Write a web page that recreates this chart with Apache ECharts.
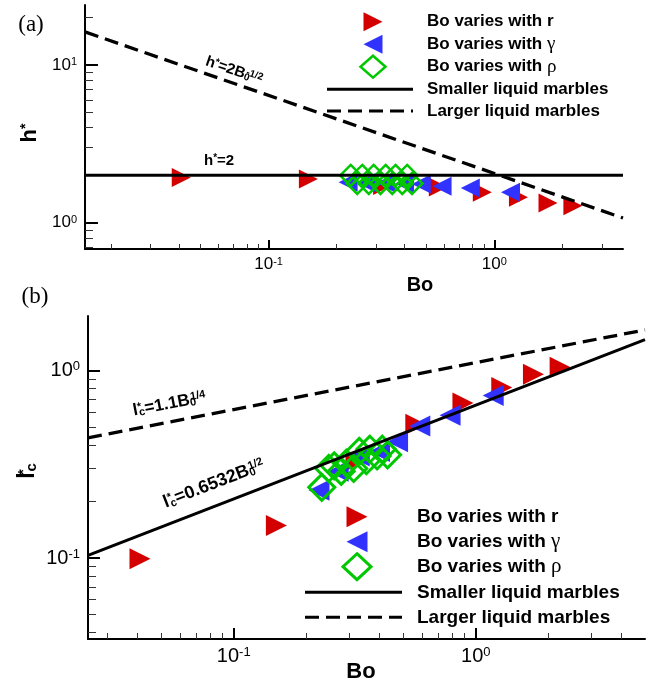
<!DOCTYPE html>
<html><head><meta charset="utf-8">
<script src="https://cdn.jsdelivr.net/npm/echarts@6/dist/echarts.min.js"></script>
<style>html,body{margin:0;padding:0;background:#fff}#c{width:662px;height:689px}</style>
</head><body><div id="c"></div>
<script>
const SANS = "'Liberation Sans', Arial, Helvetica, sans-serif";
const SERIF = "'Liberation Serif', 'Times New Roman', serif";
const RED = '#d40000', BLUE = '#3232ff', GREEN = '#00c800';

// ---------- data: panel (a) h* vs Bo ----------
const boR = [0.041, 0.150, 0.32, 0.565, 0.885, 1.28, 1.73, 2.23];
const hR  = [1.93, 1.89, 1.72, 1.68, 1.56, 1.45, 1.33, 1.28];
const boG = [0.225, 0.27, 0.33, 0.40, 0.475, 0.587, 0.783, 1.18];
const hG  = [1.80, 1.79, 1.78, 1.77, 1.76, 1.70, 1.66, 1.56];
const boP = [0.231, 0.247, 0.26, 0.278, 0.292, 0.313, 0.33, 0.353, 0.365, 0.391, 0.411, 0.432];
const hP  = [1.99, 1.77, 1.99, 1.77, 1.99, 1.77, 1.99, 1.77, 1.99, 1.77, 1.99, 1.77];
const boLineA = [0.01535, 3.72];
const hSmall  = [2, 2];
const hLarge  = [16.2, 1.07];
// ---------- data: panel (b) l*c vs Bo ----------
const lcR = [0.099, 0.149, 0.33, 0.517, 0.67, 0.81, 0.953, 1.04];
const lcG = [0.23, 0.29, 0.35, 0.37, 0.416, 0.506, 0.577, 0.736];
const lcP = [0.238, 0.30, 0.31, 0.29, 0.32, 0.30, 0.37, 0.33, 0.38, 0.35, 0.38, 0.355];
const boLineB = [0.025, 5];
const lcSmall = [0.1033, 1.46];
const lcLarge = [0.437, 1.645];
// ---------- ticks ----------
const xMajorA = [0.1, 1];
const xMinorA = [0.02,0.03,0.04,0.05,0.06,0.07,0.08,0.09,0.2,0.3,0.4,0.5,0.6,0.7,0.8,0.9,2,3];
const yMajorA = [1, 10];
const yMinorA = [0.7,0.8,0.9,2,3,4,5,6,7,8,9,20];
const xMajorB = [0.1, 1];
const xMinorB = [0.03,0.04,0.05,0.06,0.07,0.08,0.09,0.2,0.3,0.4,0.5,0.6,0.7,0.8,0.9,2,3,4];
const yMajorB = [0.1, 1];
const yMinorB = [0.04,0.05,0.06,0.07,0.08,0.09,0.2,0.3,0.4,0.5,0.6,0.7,0.8,0.9];
const legendNames = ['Bo varies with r', 'Bo varies with ', 'Bo varies with ', 'Smaller liquid marbles', 'Larger liquid marbles'];
const legendGreek = ['', 'γ', 'ρ', '', ''];

const zip = (a, b) => a.map((v, i) => [v, b[i]]);
function pow10(v) { const e = Math.round(Math.log10(v)); return '{b|10}{s|' + e + '}'; }

function axis(kind, grid, min, max, major, minor, fs, ss, majLen, minLen, margin) {
  const pos = kind === 'x' ? 'bottom' : 'left';
  const main = {
    type: 'log', logBase: 10, gridIndex: grid, min: min, max: max, position: pos, offset: 0,
    axisLine: { show: true, onZero: false, lineStyle: { color: '#000', width: 2 } },
    axisTick: { show: true, inside: true, length: majLen, customValues: major, lineStyle: { color: '#000', width: 2 } },
    axisLabel: { customValues: major, formatter: pow10, margin: margin,
      rich: { b: { fontSize: fs, fontFamily: SANS, color: '#000' },
              s: { fontSize: ss, fontFamily: SANS, color: '#000', verticalAlign: 'top' } } },
    splitLine: { show: false }, minorTick: { show: false }, minorSplitLine: { show: false }
  };
  const sub = {
    type: 'log', logBase: 10, gridIndex: grid, min: min, max: max, position: pos, offset: 0,
    axisLine: { show: false, onZero: false },
    axisTick: { show: true, inside: true, length: minLen, customValues: minor, lineStyle: { color: '#333', width: 1 } },
    axisLabel: { show: false }, splitLine: { show: false }
  };
  return [main, sub];
}

const xAxes = [].concat(
  axis('x', 0, 0.01535, 3.72, xMajorA, xMinorA, 17, 11, 9, 5, 7),
  axis('x', 1, 0.025, 5, xMajorB, xMinorB, 20, 13, 11, 6, 7));
const yAxes = [].concat(
  axis('y', 0, 0.68, 24, yMajorA, yMinorA, 17, 11, 13, 8, 8),
  axis('y', 1, 0.037, 1.95, yMajorB, yMinorB, 20, 13, 12, 8, 8));

function scat(xi, yi, data, sym, rot, size, color, hollow, bw) {
  return {
    type: 'scatter', xAxisIndex: xi, yAxisIndex: yi, data: data,
    symbol: sym, symbolRotate: rot, symbolSize: size, z: 2,
    itemStyle: hollow ? { color: 'rgba(0,0,0,0)', borderColor: color, borderWidth: bw, opacity: 1 }
                      : { color: color, opacity: 1 },
    emphasis: { disabled: true }
  };
}
function lineS(xi, yi, data, dashed) {
  return {
    type: 'line', xAxisIndex: xi, yAxisIndex: yi, data: data, symbol: 'none', z: 4,
    lineStyle: { color: '#000', width: dashed ? 3.3 : 3, type: dashed ? [14, 7] : 'solid' },
    emphasis: { disabled: true }
  };
}

const series = [
  scat(0, 0, zip(boR, hR), 'triangle', -90, 19, RED),
  scat(0, 0, zip(boG, hG), 'triangle', 90, 19, BLUE),
  scat(0, 0, zip(boP, hP), 'diamond', 0, [21, 21], GREEN, true, 2.5),
  lineS(0, 0, zip(boLineA, hSmall), false),
  lineS(0, 0, zip(boLineA, hLarge), true),
  scat(2, 2, zip(boR, lcR), 'triangle', -90, 21, RED),
  scat(2, 2, zip(boG, lcG), 'triangle', 90, 21, BLUE),
  scat(2, 2, zip(boP, lcP), 'diamond', 0, [26, 26], GREEN, true, 3),
  lineS(2, 2, zip(boLineB, lcSmall), false),
  lineS(2, 2, zip(boLineB, lcLarge), true)
];

// ---------- graphic: legends, labels, annotations ----------
const g = [];
function txt(x, y, text, opts) {
  const o = Object.assign({ fs: 17, bold: true, family: SANS, align: 'left', rot: 0, rich: null }, opts || {});
  g.push({ type: 'text', x: x, y: y, rotation: o.rot, z: 10, silent: true,
    style: { text: text, fill: '#000', fontSize: o.fs, fontWeight: o.bold ? 'bold' : 'normal',
      fontFamily: o.family, align: o.align, verticalAlign: 'middle', rich: o.rich || undefined } });
}
function tri(cx, cy, s, dir, color) {
  const h = s / 2;
  const pts = dir > 0 ? [[cx - h, cy - h], [cx + h, cy], [cx - h, cy + h]]
                      : [[cx + h, cy - h], [cx - h, cy], [cx + h, cy + h]];
  g.push({ type: 'polygon', z: 10, silent: true, shape: { points: pts }, style: { fill: color } });
}
function dia(cx, cy, w, h, lw) {
  g.push({ type: 'polygon', z: 10, silent: true,
    shape: { points: [[cx, cy - h / 2], [cx + w / 2, cy], [cx, cy + h / 2], [cx - w / 2, cy]] },
    style: { fill: 'none', stroke: GREEN, lineWidth: lw } });
}
function seg(x1, x2, y, dashed) {
  g.push({ type: 'line', z: 10, silent: true, shape: { x1: x1, y1: y, x2: x2, y2: y },
    style: { stroke: '#000', lineWidth: 3, lineDash: dashed ? [14, 7] : null } });
}
function legend(mx, tx, rows, fs, ts, dw, dh, dlw, lx1, lx2) {
  tri(mx, rows[0], ts, 1, RED);
  tri(mx, rows[1], ts, -1, BLUE);
  dia(mx, rows[2], dw, dh, dlw);
  seg(lx1, lx2, rows[3], false);
  seg(lx1, lx2, rows[4], true);
  for (let i = 0; i < 5; i++) {
    txt(tx, rows[i], '{t|' + legendNames[i] + '}' + (legendGreek[i] ? '{g|' + legendGreek[i] + '}' : ''), {
      fs: fs, rich: { t: { fontSize: fs, fontWeight: 'bold', fontFamily: SANS, fill: '#000' },
                      g: { fontSize: fs + 2, fontWeight: 'normal', fontFamily: SERIF, fill: '#000' } } });
  }
}
legend(373, 427, [21.7, 44.3, 66.7, 89.3, 111], 17, 19, 25, 22, 2.5, 327, 413);
legend(357, 417, [516.7, 541.7, 566.7, 592.3, 617.3], 19, 21, 28, 26, 3, 305, 402);

// panel labels
txt(31, 25, '(a)', { fs: 23, bold: false, family: SERIF, align: 'center' });
txt(35, 297, '(b)', { fs: 23, bold: false, family: SERIF, align: 'center' });
// axis titles
txt(420, 285, 'Bo', { fs: 20, align: 'center' });
txt(361, 672, 'Bo', { fs: 22, align: 'center' });
function annRich(F, S) {
  return {
    b: { fontSize: F, fontWeight: 'bold', fontFamily: SANS, fill: '#000' },
    p: { fontSize: S, fontWeight: 'bold', fontFamily: SANS, fill: '#000', verticalAlign: 'top' },
    p0: { fontSize: S, fontWeight: 'bold', fontFamily: SANS, fill: '#000', verticalAlign: 'top', width: 1 },
    d: { fontSize: S, fontWeight: 'bold', fontFamily: SANS, fill: '#000', verticalAlign: 'bottom' },
    d0: { fontSize: S, fontWeight: 'bold', fontFamily: SANS, fill: '#000', verticalAlign: 'bottom', width: 1 }
  };
}
txt(30, 133, '{b|h}{p|*}', { rot: Math.PI / 2, align: 'center', rich: annRich(22, 14) });
txt(28, 471, '{b|l}{p0|*}{d|c}', { rot: Math.PI / 2, align: 'center', rich: annRich(23, 15) });
// annotations
txt(204, 161, '{b|h}{p|*}{b|=2}', { rich: annRich(15, 10) });
txt(206, 61, '{b|h}{p|*}{b|=2B}{d0|0}{p|-1/2}', { rot: -0.33, rich: annRich(15, 10) });
txt(133, 411, '{b|l}{p0|*}{d|c}{b|=1.1B}{d0|0}{p|1/4}', { rot: 0.19, rich: annRich(17, 11) });
txt(164, 503, '{b|l}{p0|*}{d|c}{b|=0.6532B}{d0|0}{p|1/2}', { rot: 0.37, rich: annRich(18, 11) });

const chart = echarts.init(document.getElementById('c'), null, { renderer: 'canvas' });
chart.setOption({
  animation: false,
  backgroundColor: '#fff',
  textStyle: { fontFamily: SANS },
  grid: [
    { left: 85, top: 5, width: 538, height: 244, containLabel: false },
    { left: 88, top: 316, width: 557, height: 323, containLabel: false }
  ],
  xAxis: xAxes,
  yAxis: yAxes,
  series: series,
  graphic: g
});
</script></body></html>
